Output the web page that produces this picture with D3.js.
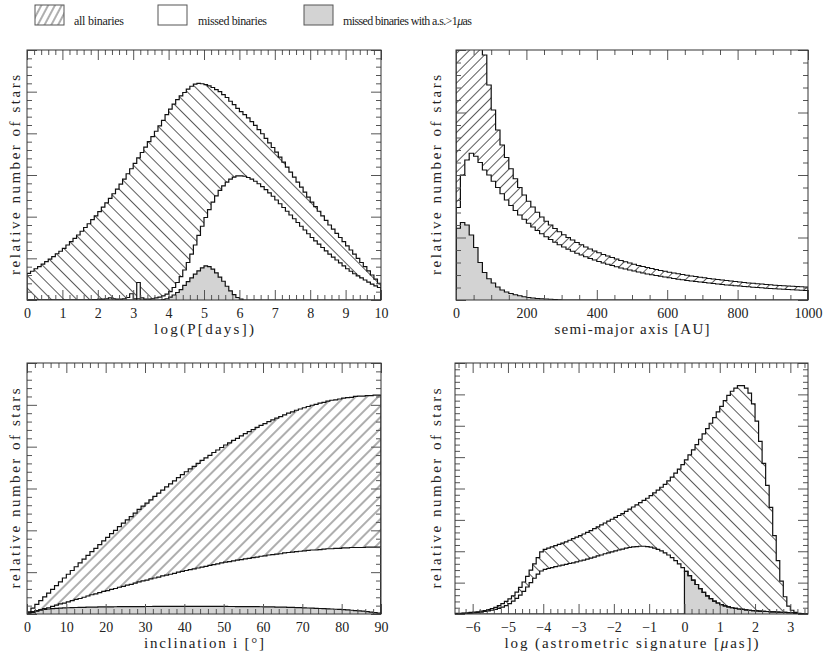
<!DOCTYPE html>
<html><head><meta charset="utf-8">
<script src="https://cdn.jsdelivr.net/npm/d3@7"></script>
<style>
body{margin:0;background:#fff}
svg{display:block}
text{font-family:"Liberation Serif","DejaVu Serif",serif;fill:#222}
</style>
</head><body>
<svg id="c" width="830" height="659"></svg>
<script>
// ---------- DATA ----------
// Panel 1: log(P[days]) histogram, bins of 0.1 from 0 to 10
const logPStart = 0, logPWidth = 0.1;
const logPAll = [
0.64,0.69,0.75,0.80,0.86,0.92,0.98,1.04,1.11,1.17,
1.24,1.32,1.40,1.48,1.56,1.65,1.74,1.83,1.93,2.02,
2.12,2.23,2.33,2.44,2.55,2.66,2.78,2.90,3.03,3.15,
3.28,3.41,3.54,3.67,3.80,3.92,4.05,4.18,4.31,4.45,
4.58,4.70,4.81,4.90,4.98,5.06,5.13,5.18,5.20,5.19,
5.17,5.14,5.10,5.05,5.00,4.93,4.86,4.77,4.69,4.60,
4.52,4.45,4.37,4.28,4.19,4.09,3.99,3.88,3.77,3.66,
3.55,3.43,3.31,3.19,3.07,2.95,2.83,2.71,2.59,2.47,
2.35,2.24,2.13,2.02,1.91,1.80,1.70,1.60,1.50,1.40,
1.30,1.20,1.10,1.00,0.90,0.80,0.70,0.60,0.50,0.40];
const logPMissed = [
0,0,0,0,0,0,0,0,0,0,
0,0,0,0,0,0,0,0,0.01,0.01,
0.02,0.02,0.03,0.05,0.03,0.02,0.02,0.03,0.06,0.15,
0.03,0.42,0.05,0.02,0.02,0.03,0.05,0.07,0.10,0.14,
0.20,0.30,0.42,0.56,0.72,0.90,1.10,1.32,1.55,1.77,
1.98,2.17,2.35,2.50,2.63,2.74,2.83,2.90,2.95,2.98,
2.98,2.97,2.94,2.90,2.85,2.79,2.72,2.65,2.57,2.49,
2.40,2.31,2.22,2.13,2.04,1.95,1.86,1.77,1.68,1.59,
1.50,1.42,1.34,1.26,1.18,1.10,1.03,0.96,0.89,0.82,
0.75,0.69,0.63,0.58,0.53,0.48,0.43,0.38,0.34,0.30];
const logPGray = [
0,0,0,0,0,0,0,0,0,0,
0,0,0,0,0,0,0,0,0,0,
0,0,0,0,0,0,0,0,0,0,
0,0.03,0,0,0,0,0,0,0.01,0.03,
0.07,0.12,0.18,0.25,0.35,0.44,0.53,0.62,0.70,0.77,
0.82,0.80,0.74,0.65,0.55,0.45,0.33,0.22,0.13,0.06,
0.02,0,0,0,0,0,0,0,0,0,
0,0,0,0,0,0,0,0,0,0,
0,0,0,0,0,0,0,0,0,0,
0,0,0,0,0,0,0,0,0,0];

// Panel 2: semi-major axis [AU], bins of 12.5 AU from 0 to 1000
const smaStart = 0, smaWidth = 12.5;
const smaAll = [
2.6,2.2,1.9,1.6,1.35,1.12,0.98,0.86,0.76,0.68,
0.62,0.57,0.525,0.485,0.45,0.42,0.395,0.372,0.351,0.332,
0.315,0.300,0.286,0.273,0.261,0.250,0.240,0.230,0.221,0.212,
0.204,0.196,0.189,0.182,0.176,0.170,0.164,0.158,0.153,0.148,
0.143,0.138,0.134,0.130,0.126,0.122,0.118,0.115,0.111,0.108,
0.105,0.102,0.099,0.096,0.094,0.091,0.089,0.086,0.084,0.082,
0.080,0.078,0.076,0.074,0.072,0.070,0.068,0.067,0.065,0.064,
0.062,0.061,0.059,0.058,0.057,0.056,0.055,0.054,0.053,0.052];
const smaMissed = [
0.37,0.50,0.56,0.587,0.575,0.55,0.52,0.50,0.475,0.45,
0.425,0.40,0.378,0.358,0.34,0.323,0.307,0.292,0.278,0.265,
0.253,0.242,0.231,0.221,0.212,0.203,0.195,0.187,0.180,0.173,
0.166,0.160,0.154,0.148,0.143,0.138,0.133,0.128,0.124,0.120,
0.116,0.112,0.108,0.104,0.101,0.098,0.095,0.092,0.089,0.086,
0.083,0.081,0.078,0.076,0.074,0.072,0.070,0.068,0.066,0.064,
0.062,0.060,0.059,0.057,0.056,0.054,0.053,0.051,0.050,0.049,
0.047,0.046,0.045,0.044,0.043,0.042,0.041,0.040,0.039,0.038];
const smaGray = [
0.287,0.31,0.30,0.26,0.21,0.15,0.11,0.085,0.068,0.052,
0.040,0.032,0.026,0.021,0.017,0.013,0.010,0.008,0.006,0.005,
0.004,0.003,0.002,0.001,0,0,0,0,0,0,
0,0,0,0,0,0,0,0,0,0,
0,0,0,0,0,0,0,0,0,0,
0,0,0,0,0,0,0,0,0,0,
0,0,0,0,0,0,0,0,0,0,
0,0,0,0,0,0,0,0,0,0];

// Panel 3: inclination [deg], bins of 1 deg from 0 to 90
const incStart = 0, incWidth = 1;
const incAll = [
0.05,0.14,0.23,0.32,0.41,0.50,0.59,0.68,0.77,0.86,
0.95,1.04,1.13,1.22,1.31,1.40,1.49,1.57,1.66,1.75,
1.83,1.92,2.00,2.09,2.17,2.25,2.33,2.41,2.50,2.58,
2.65,2.73,2.81,2.89,2.96,3.04,3.11,3.18,3.26,3.33,
3.40,3.47,3.53,3.60,3.67,3.73,3.79,3.86,3.92,3.98,
4.04,4.09,4.15,4.20,4.26,4.31,4.36,4.41,4.46,4.51,
4.55,4.60,4.64,4.68,4.72,4.76,4.80,4.83,4.87,4.90,
4.93,4.96,4.99,5.01,5.04,5.06,5.09,5.11,5.12,5.14,
5.16,5.17,5.18,5.20,5.21,5.21,5.22,5.22,5.23,5.23];
const incMissed = [
0.02,0.04,0.07,0.10,0.13,0.15,0.18,0.21,0.24,0.26,
0.29,0.32,0.35,0.37,0.40,0.43,0.46,0.48,0.51,0.54,
0.56,0.59,0.61,0.64,0.66,0.69,0.71,0.74,0.77,0.79,
0.81,0.84,0.86,0.88,0.91,0.93,0.95,0.97,1.00,1.02,
1.04,1.06,1.08,1.10,1.12,1.14,1.16,1.18,1.20,1.22,
1.24,1.25,1.27,1.29,1.30,1.32,1.33,1.35,1.36,1.38,
1.39,1.41,1.42,1.43,1.44,1.46,1.47,1.48,1.49,1.50,
1.51,1.52,1.53,1.53,1.54,1.55,1.56,1.56,1.57,1.57,
1.58,1.58,1.59,1.59,1.59,1.59,1.60,1.60,1.60,1.60];
const incGray = [
0.03,0.06,0.08,0.10,0.11,0.12,0.13,0.135,0.14,0.145,
0.15,0.152,0.155,0.157,0.16,0.162,0.164,0.166,0.168,0.17,
0.171,0.172,0.173,0.174,0.175,0.176,0.177,0.177,0.178,0.178,
0.179,0.179,0.18,0.18,0.18,0.18,0.18,0.18,0.18,0.18,
0.18,0.18,0.18,0.18,0.18,0.18,0.18,0.18,0.18,0.18,
0.18,0.179,0.179,0.178,0.178,0.177,0.176,0.175,0.174,0.173,
0.172,0.17,0.168,0.166,0.164,0.162,0.16,0.157,0.154,0.151,
0.148,0.144,0.14,0.136,0.132,0.128,0.124,0.119,0.114,0.109,
0.103,0.097,0.09,0.083,0.075,0.067,0.058,0.047,0.035,0.02];

// Panel 4: log(astrometric signature [muas]), bins of 0.1 from -6.5 to 3.5
const asStart = -6.5, asWidth = 0.1;
const asAll = [
0.02,0.02,0.03,0.04,0.05,0.06,0.07,0.09,0.11,0.14,
0.17,0.21,0.27,0.33,0.40,0.48,0.58,0.70,0.85,1.02,
1.20,1.40,1.60,1.80,1.98,2.06,2.10,2.14,2.18,2.22,
2.26,2.30,2.35,2.40,2.45,2.50,2.55,2.60,2.66,2.72,
2.78,2.84,2.90,2.96,3.02,3.08,3.14,3.20,3.27,3.34,
3.41,3.48,3.55,3.62,3.69,3.77,3.86,3.95,4.04,4.13,
4.24,4.36,4.49,4.62,4.76,4.91,5.07,5.23,5.40,5.57,
5.74,5.91,6.08,6.26,6.44,6.62,6.80,6.97,7.10,7.20,
7.28,7.28,7.20,7.04,6.70,6.15,5.50,4.80,4.10,3.40,
2.50,1.70,1.05,0.55,0.25,0.12,0.05,0.02,0.01,0];
const asMissed = [
0.01,0.01,0.02,0.02,0.03,0.04,0.05,0.06,0.08,0.10,
0.12,0.15,0.18,0.22,0.27,0.33,0.41,0.50,0.60,0.72,
0.86,1.00,1.14,1.27,1.37,1.42,1.45,1.48,1.51,1.53,
1.56,1.58,1.61,1.63,1.66,1.69,1.72,1.75,1.78,1.81,
1.85,1.88,1.92,1.95,1.98,2.01,2.04,2.07,2.10,2.12,
2.14,2.15,2.16,2.16,2.15,2.13,2.10,2.06,2.01,1.95,
1.88,1.80,1.70,1.60,1.48,1.36,1.22,1.08,0.94,0.81,
0.69,0.58,0.49,0.41,0.35,0.30,0.26,0.23,0.20,0.18,
0.16,0.15,0.13,0.12,0.11,0.10,0.09,0.085,0.08,0.07,
0.065,0.06,0.055,0.05,0.045,0.04,0.02,0.01,0.005,0];
const asGray = [
0,0,0,0,0,0,0,0,0,0,
0,0,0,0,0,0,0,0,0,0,
0,0,0,0,0,0,0,0,0,0,
0,0,0,0,0,0,0,0,0,0,
0,0,0,0,0,0,0,0,0,0,
0,0,0,0,0,0,0,0,0,0,
0,0,0,0,0,1.36,1.22,1.08,0.94,0.81,
0.69,0.58,0.49,0.41,0.35,0.30,0.26,0.23,0.20,0.18,
0.16,0.15,0.13,0.12,0.11,0.10,0.09,0.085,0.08,0.07,
0.065,0.06,0.055,0.05,0.045,0.04,0.02,0.01,0.005,0];

// Tick labels
const logPTicks = [0,1,2,3,4,5,6,7,8,9,10];
const smaTicks = [0,200,400,600,800,1000];
const incTicks = [0,10,20,30,40,50,60,70,80,90];
const asTicks = [-6,-5,-4,-3,-2,-1,0,1,2,3];

const legendLabels = ["all binaries","missed binaries","missed binaries with a.s.>1"];

// ---------- DRAW ----------
const svg = d3.select("#c");
const defs = svg.append("defs");

function hatch(id, angle, gap, color, sw){
  const p = defs.append("pattern").attr("id", id)
    .attr("patternUnits","userSpaceOnUse")
    .attr("width", gap).attr("height", gap)
    .attr("patternTransform", `rotate(${angle})`);
  p.append("rect").attr("width", gap).attr("height", gap).attr("fill","#fff");
  p.append("line").attr("x1", gap/2).attr("x2", gap/2).attr("y1", 0).attr("y2", gap)
    .attr("stroke", color).attr("stroke-width", sw);
}
hatch("hatchBack", -45, 9, "#333", 0.8);
hatch("hatchFwd", 45, 8, "#333", 0.8);
hatch("hatchFwd2", 45, 7, "#333", 0.8);
hatch("hatchLeg", 28, 6, "#333", 0.8);

let clipN = 0;
function drawPanel(cfg){
  const [fx0, fy0, fx1, fy1] = cfg.frame;
  const x = d3.scaleLinear().domain(cfg.xDomain).range([fx0, fx1]);
  const y = d3.scaleLinear().domain(cfg.yDomain).range([fy1, fy0]);
  const g = svg.append("g");
  const cid = "clip" + (clipN++);
  defs.append("clipPath").attr("id", cid).append("rect")
    .attr("x", fx0).attr("y", fy0).attr("width", fx1 - fx0).attr("height", fy1 - fy0);
  const body = g.append("g").attr("clip-path", `url(#${cid})`);

  const pts = vals => {
    const a = vals.map((v, i) => [cfg.start + i * cfg.width, v]);
    a.push([cfg.start + vals.length * cfg.width, vals[vals.length - 1]]);
    return a;
  };
  const outline = vals => {
    const a = pts(vals);
    return [[a[0][0], 0], ...a, [a[a.length - 1][0], 0]];
  };
  const area = d3.area().curve(d3.curveStepAfter)
    .x(d => x(d[0])).y0(y(0)).y1(d => y(d[1]));
  const line = d3.line().curve(d3.curveStepAfter)
    .x(d => x(d[0])).y(d => y(d[1]));

  body.append("path").attr("d", area(pts(cfg.all))).attr("fill", `url(#${cfg.hatch})`);
  body.append("path").attr("d", area(pts(cfg.missed))).attr("fill", "#fff");
  body.append("path").attr("d", area(pts(cfg.gray))).attr("fill", "#d3d3d3");
  [cfg.all, cfg.missed, cfg.gray].forEach(v => {
    body.append("path").attr("d", line(outline(v)))
      .attr("fill", "none").attr("stroke", "#111").attr("stroke-width", 1.2)
      .attr("stroke-linejoin", "miter");
  });

  // ticks
  function tickSet(dom, minor, ratio){
    const lo = Math.ceil(dom[0] / minor - 1e-9), hi = Math.floor(dom[1] / minor + 1e-9);
    const mi = [], ma = [];
    for (let i = lo; i <= hi; i++) {
      const v = +(i * minor).toFixed(6);
      if ((((i % ratio) + ratio) % ratio) === 0) ma.push(v); else mi.push(v);
    }
    return {mi, ma};
  }
  const xt = tickSet(cfg.xDomain, cfg.xMinor, cfg.xRatio);
  const yt = tickSet(cfg.yDomain, cfg.yMinor, cfg.yRatio);
  const styleAxis = sel => {
    sel.select(".domain").remove();
    sel.selectAll(".tick line").attr("stroke", "#555").attr("stroke-width", 1);
  };
  const minL = 5, majL = 10;
  g.append("g").attr("transform", `translate(0,${fy1})`)
    .call(d3.axisBottom(x).tickValues(xt.mi).tickSize(-minL).tickFormat("")).call(styleAxis);
  const bx = g.append("g").attr("transform", `translate(0,${fy1})`)
    .call(d3.axisBottom(x).tickValues(cfg.xTicks).tickSize(-majL).tickPadding(8)
      .tickFormat(d3.format("d"))).call(styleAxis);
  bx.attr("font-family", "Liberation Serif, serif").attr("font-size", 14);
  bx.selectAll(".tick text").attr("fill", "#222");
  g.append("g").attr("transform", `translate(0,${fy0})`)
    .call(d3.axisTop(x).tickValues(xt.mi).tickSize(-minL).tickFormat("")).call(styleAxis);
  g.append("g").attr("transform", `translate(0,${fy0})`)
    .call(d3.axisTop(x).tickValues(xt.ma).tickSize(-majL).tickFormat("")).call(styleAxis);
  [[d3.axisLeft, fx0], [d3.axisRight, fx1]].forEach(([ax, px]) => {
    g.append("g").attr("transform", `translate(${px},0)`)
      .call(ax(y).tickValues(yt.mi).tickSize(-minL).tickFormat("")).call(styleAxis);
    g.append("g").attr("transform", `translate(${px},0)`)
      .call(ax(y).tickValues(yt.ma).tickSize(-majL).tickFormat("")).call(styleAxis);
  });
  g.append("rect").attr("x", fx0).attr("y", fy0).attr("width", fx1 - fx0).attr("height", fy1 - fy0)
    .attr("fill", "none").attr("stroke", "#333").attr("stroke-width", 1);

  const xl = g.append("text").attr("x", (fx0 + fx1) / 2).attr("y", fy1 + 34)
    .attr("text-anchor", "middle").attr("font-size", 15);
  cfg.xLabel.forEach(([t, it]) => xl.append("tspan").text(t).attr("font-style", it ? "italic" : null));
  if (cfg.xLabelLen) xl.attr("textLength", cfg.xLabelLen).attr("lengthAdjust", "spacing");
  g.append("text").attr("transform", `translate(${cfg.yLabelX},${(fy0 + fy1) / 2}) rotate(-90)`)
    .attr("text-anchor", "middle").attr("dy", "0.35em").attr("font-size", 15)
    .attr("textLength", 200).attr("lengthAdjust", "spacing")
    .text("relative number of stars");
}

drawPanel({frame:[27,50,381,300], xDomain:[0,10], yDomain:[0,6],
  start:logPStart, width:logPWidth, all:logPAll, missed:logPMissed, gray:logPGray,
  hatch:"hatchBack", xMinor:0.2, xRatio:5, yMinor:0.2, yRatio:5, xTicks:logPTicks,
  xLabel:[["log(P[days])", false]], xLabelLen:100, yLabelX:15});
drawPanel({frame:[456,50,808,300], xDomain:[0,1000], yDomain:[0,1],
  start:smaStart, width:smaWidth, all:smaAll, missed:smaMissed, gray:smaGray,
  hatch:"hatchFwd2", xMinor:50, xRatio:4, yMinor:0.05, yRatio:5, xTicks:smaTicks,
  xLabel:[["semi-major axis [AU]", false]], xLabelLen:155, yLabelX:436});
drawPanel({frame:[27,363,381,614], xDomain:[0,90], yDomain:[0,6],
  start:incStart, width:incWidth, all:incAll, missed:incMissed, gray:incGray,
  hatch:"hatchFwd", xMinor:2, xRatio:5, yMinor:0.2, yRatio:5, xTicks:incTicks,
  xLabel:[["inclination i [°]", false]], xLabelLen:120, yLabelX:15});
drawPanel({frame:[455,363,808,614], xDomain:[-6.5,3.5], yDomain:[0,8],
  start:asStart, width:asWidth, all:asAll, missed:asMissed, gray:asGray,
  hatch:"hatchBack", xMinor:0.2, xRatio:5, yMinor:0.2, yRatio:5, xTicks:asTicks,
  xLabel:[["log (astrometric signature [", false], ["μ", true], ["as])", false]], xLabelLen:254, yLabelX:436});

// legend
const legend = svg.append("g");
const legItems = [
  {x:35, fill:"url(#hatchLeg)", tx:74, w:50},
  {x:158, fill:"#fff", tx:198, w:69},
  {x:304, fill:"#d3d3d3", tx:343, w:129}
];
legItems.forEach((it, i) => {
  legend.append("rect").attr("x", it.x).attr("y", 5).attr("width", 29).attr("height", 20)
    .attr("fill", it.fill).attr("stroke", "#555").attr("stroke-width", 1);
  const t = legend.append("text").attr("x", it.tx).attr("y", 25).attr("font-size", 12)
    .attr("textLength", it.w).attr("lengthAdjust", "spacing");
  t.append("tspan").text(legendLabels[i]);
  if (i === 2) {
    t.append("tspan").attr("font-style", "italic").text("μ");
    t.append("tspan").text("as");
  }
});
</script>
</body></html>
